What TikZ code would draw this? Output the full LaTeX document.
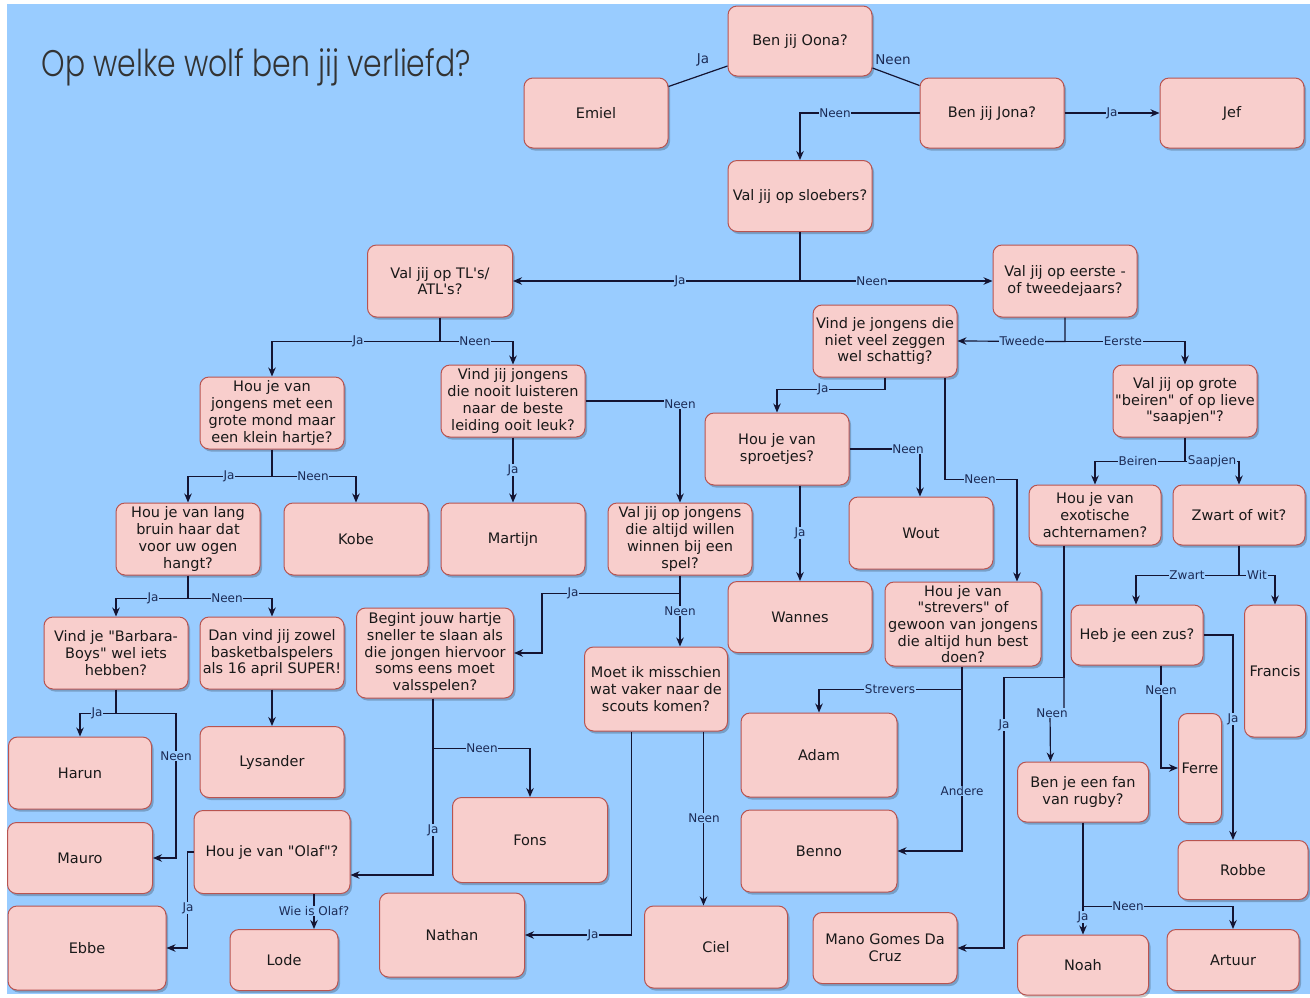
\documentclass[tikz,border=0pt]{standalone}
\usepackage{fontspec}
\usepackage{graphicx}
\usetikzlibrary{arrows.meta,shadows,calc}
\newfontfamily\dvs{DejaVu Sans}
\newfontfamily\ttlfont{Poppins Light}
\definecolor{bg}{HTML}{99CCFF}
\definecolor{boxfill}{HTML}{F8CECC}
\definecolor{boxline}{HTML}{B85450}
\definecolor{edgec}{HTML}{141432}
\definecolor{lbltext}{HTML}{1C2B55}
\tikzset{
  box/.style={draw=boxline, fill=boxfill, rounded corners=9pt, line width=1pt, inner sep=0pt, align=center,
    font=\dvs\fontsize{14.5}{16.7}\selectfont, text=black!90,
    drop shadow={shadow xshift=2pt, shadow yshift=-2.5pt, fill=black, opacity=0.22}},
  con/.style={draw=edgec, line width=1.2pt, -{Stealth[length=9pt,width=7.5pt]}},
  plain/.style={draw=edgec, line width=1.2pt},
  lbl/.style={fill=bg, inner sep=0.8pt, font=\dvs\fontsize{12}{14}\selectfont, text=lbltext},
  lblbig/.style={lbl, font=\dvs\fontsize{13.5}{15}\selectfont},
}
\newcommand\bx[6]{\node[box,minimum width=#4pt,minimum height=#5pt] (#1) at (#2,#3) {#6};}
\begin{document}
\begin{tikzpicture}[x=1pt,y=-1pt]
\useasboundingbox (0,0) rectangle (1310,997);
\fill[white] (0,0) rectangle (1310,997);
\fill[bg] (7,4) rectangle (1310,994);
\node[anchor=base west, text=black!80] (title) at (38,76) {\resizebox{429pt}{28pt}{\ttlfont Op welke wolf ben jij verliefd?}};
% boxes
\bx{oona}{800}{41}{144}{70}{Ben jij Oona?}
\bx{emiel}{596}{113}{144}{70}{Emiel}
\bx{jona}{992}{113}{144}{70}{Ben jij Jona?}
\bx{jef}{1232}{113}{144}{70}{Jef}
\bx{sloebers}{800}{196}{144}{71}{Val jij op sloebers?}
\bx{tl}{440}{281}{145}{72}{Val jij op TL's/\\ATL's?}
\bx{eerste}{1065}{281}{144}{72}{Val jij op eerste -\\of tweedejaars?}
\bx{hou1}{272}{413}{144}{72}{Hou je van\\jongens met een\\grote mond maar\\een klein hartje?}
\bx{nooit}{513}{401}{144}{72}{Vind jij jongens\\die nooit luisteren\\naar de beste\\leiding ooit leuk?}
\bx{schattig}{885}{341}{144}{72}{Vind je jongens die\\niet veel zeggen\\wel schattig?}
\bx{grote}{1185}{401}{144}{72}{Val jij op grote\\"beiren" of op lieve\\"saapjen"?}
\bx{lang}{188}{539}{144}{72}{Hou je van lang\\bruin haar dat\\voor uw ogen\\hangt?}
\bx{kobe}{356}{539}{144}{72}{Kobe}
\bx{martijn}{513}{539}{144}{72}{Martijn}
\bx{winnen}{680}{539}{144}{72}{Val jij op jongens\\die altijd willen\\winnen bij een\\spel?}
\bx{sproetjes}{777}{449}{144}{72}{Hou je van\\sproetjes?}
\bx{wout}{921}{533}{144}{72}{Wout}
\bx{wannes}{800}{617}{144}{71}{Wannes}
\bx{exo}{1095}{515}{132}{60}{Hou je van\\exotische\\achternamen?}
\bx{zw}{1239}{515}{132}{60}{Zwart of wit?}
\bx{barbara}{116}{653}{144}{72}{Vind je "Barbara-\\Boys" wel iets\\hebben?}
\bx{basket}{272}{653}{144}{72}{Dan vind jij zowel\\basketbalspelers\\als 16 april SUPER!}
\bx{begint}{435}{653}{157}{90}{Begint jouw hartje\\sneller te slaan als\\die jongen hiervoor\\soms eens moet\\valsspelen?}
\bx{moet}{656}{689}{143}{84}{Moet ik misschien\\wat vaker naar de\\scouts komen?}
\bx{strevers}{963}{624}{156}{84}{Hou je van\\"strevers" of\\gewoon van jongens\\die altijd hun best\\doen?}
\bx{zus}{1137}{635}{132}{60}{Heb je een zus?}
\bx{francis}{1275}{671}{61}{132}{Francis}
\bx{harun}{80}{773}{143}{72}{Harun}
\bx{lysander}{272}{762}{144}{71}{Lysander}
\bx{mauro}{80}{858}{145}{71}{Mauro}
\bx{olaf}{272}{852}{156}{83}{Hou je van "Olaf"?}
\bx{fons}{530}{840}{155}{85}{Fons}
\bx{adam}{819}{755}{156}{84}{Adam}
\bx{benno}{819}{851}{156}{82}{Benno}
\bx{ferre}{1200}{768}{43}{109}{Ferre}
\bx{rugby}{1083}{792}{131}{60}{Ben je een fan\\van rugby?}
\bx{robbe}{1243}{870}{130}{59}{Robbe}
\bx{ebbe}{87}{948}{158}{84}{Ebbe}
\bx{lode}{284}{960}{108}{61}{Lode}
\bx{nathan}{452}{935}{145}{84}{Nathan}
\bx{ciel}{716}{947}{143}{82}{Ciel}
\bx{mano}{885}{948}{144}{71}{Mano Gomes Da\\Cruz}
\bx{noah}{1083}{965}{131}{60}{Noah}
\bx{artuur}{1233}{960}{132}{61}{Artuur}
% junctions
\coordinate (j1) at ([yshift=-24pt]tl.south);
\coordinate (j2) at ([yshift=-27pt]hou1.south);
\coordinate (j3) at ([yshift=-18pt]winnen.south);
\coordinate (j4) at ([yshift=-24pt]eerste.south);
\coordinate (j6) at ([yshift=-24pt]grote.south);
\coordinate (j7) at ([yshift=-30pt]zw.south);
\coordinate (j8) at ([yshift=-23pt]lang.south);
\coordinate (j9) at ([yshift=-24pt]barbara.south);
\coordinate (j10) at ([xshift=-2pt,yshift=-50pt]begint.south);
\coordinate (j11) at ([xshift=-1pt,yshift=-23pt]strevers.south);
\coordinate (j12) at ([xshift=-31pt,yshift=-132pt]exo.south);
\coordinate (j13) at ([yshift=-84pt]rugby.south);
% connectors
\draw[plain] ([yshift=-25pt]oona.west) -- ([yshift=-9pt]emiel.north east);
\draw[plain] ([yshift=-27pt]oona.east) -- ([yshift=-8pt]jona.north west);
\draw[con] (jona.east) -- (jef.west);
\draw[con] (jona.west) -| (sloebers.north);
\draw[con] (sloebers.south) |- (tl.east);
\draw[con] (sloebers.south) |- (eerste.west);
\draw[con] (tl.south) -- (j1) -| (hou1.north);
\draw[con] (j1) -| (nooit.north);
\draw[con] (hou1.south) -- (j2) -| (lang.north);
\draw[con] (j2) -| (kobe.north);
\draw[con] (nooit.south) -- (martijn.north);
\draw[con] (nooit.east) -| (winnen.north);
\draw[con] (winnen.south) -- (j3) -- ++(-138,0) |- (begint.east);
\draw[con] (j3) -- (j3 |- moet.north);
\draw[con] (eerste.south) -- (j4) -- (schattig.east);
\draw[con] (j4) -| (grote.north);
\draw[con] (schattig.south) -- ++(0,12) -| (sproetjes.north);
\draw[con] ([xshift=60pt]schattig.south) -- ++(0,102) -| ([xshift=54pt]strevers.north);
\draw[con] (sproetjes.east) -| ([xshift=-1pt]wout.north);
\draw[con] (sproetjes.south -| wannes.north) -- (wannes.north);
\draw[con] (grote.south) -- (j6) -| (exo.north);
\draw[con] (j6) -| (zw.north);
\draw[con] (zw.south) -- (j7) -| ([xshift=-1pt]zus.north);
\draw[con] (j7) -| (francis.north);
\draw[con] (lang.south) -- (j8) -| (barbara.north);
\draw[con] (j8) -| (basket.north);
\draw[con] (barbara.south) -- (j9) -| (harun.north);
\draw[con] (j9) -- ++(60,0) |- (mauro.east);
\draw[con] (basket.south) -- (lysander.north);
\draw[plain] ([xshift=-2pt]begint.south) -- (j10);
\draw[con] (j10) -| (fons.north);
\draw[con] (j10) |- ([yshift=-23pt]olaf.east);
\draw[con] (olaf.west) -- ++(-6,0) |- (ebbe.east);
\draw[con] ([xshift=42pt]olaf.south) -- ([xshift=30pt]lode.north);
\draw[con] ([xshift=47.5pt]moet.south) -- ([xshift=-12.5pt]ciel.north);
\draw[con] ([xshift=-24.5pt]moet.south) |- (nathan.east);
\draw[plain] ([xshift=-1pt]strevers.south) -- (j11);
\draw[con] (j11) -| (adam.north);
\draw[con] (j11) |- (benno.east);
\draw[plain] ([xshift=-31pt]exo.south) -- (j12);
\draw[con] (j12) -- ++(-60,0) |- (mano.east);
\draw[con] (j12) -- ++(0,36) -- ++(-14,0) -- ([xshift=-32.5pt]rugby.north);
\draw[con] (zus.east) -| ([xshift=-10pt]robbe.north);
\draw[con] ([xshift=24pt]zus.south) |- (ferre.west);
\draw[con] (rugby.south) -- (noah.north);
\draw[con] (j13) -| (artuur.north);
% labels
\node[lblbig] (l1) at (703,60) {Ja};
\node[lblbig] (l2) at (893,60) {Neen};
\node[lbl] (l3) at (1112,113) {Ja};
\node[lbl] (l4) at (835,113) {Neen};
\node[lbl] (l5) at (680,281) {Ja};
\node[lbl] (l6) at (872,281) {Neen};
\node[lbl] (l7) at (358,341) {Ja};
\node[lbl] (l8) at (475,341) {Neen};
\node[lbl] (l9) at (229,476) {Ja};
\node[lbl] (l10) at (313,476) {Neen};
\node[lbl] (l11) at (513,470) {Ja};
\node[lbl] (l12) at (680,404) {Neen};
\node[lbl] (l13) at (573,593) {Ja};
\node[lbl] (l14) at (680,611) {Neen};
\node[lbl] (l15) at (1022,341) {Tweede};
\node[lbl] (l16) at (1123,341) {Eerste};
\node[lbl] (l17) at (823,389) {Ja};
\node[lbl] (l18) at (980,479) {Neen};
\node[lbl] (l19) at (908,449) {Neen};
\node[lbl] (l20) at (800,533) {Ja};
\node[lbl] (l21) at (1138,461) {Beiren};
\node[lbl] (l22) at (1212,461) {Saapjen};
\node[lbl] (l23) at (1187,575) {Zwart};
\node[lbl] (l24) at (1257,575) {Wit};
\node[lbl] (l25) at (153,598) {Ja};
\node[lbl] (l26) at (227,598) {Neen};
\node[lbl] (l27) at (97,713) {Ja};
\node[lbl] (l28) at (176,756) {Neen};
\node[lbl] (l29) at (482,748) {Neen};
\node[lbl] (l30) at (433,830) {Ja};
\node[lbl] (l31) at (188,908) {Ja};
\node[lbl] (l32) at (314,911) {Wie is Olaf?};
\node[lbl] (l33) at (704,818) {Neen};
\node[lbl] (l34) at (593,935) {Ja};
\node[lbl] (l35) at (890,689) {Strevers};
\node[lbl] (l36) at (962,791) {Andere};
\node[lbl] (l37) at (1004,725) {Ja};
\node[lbl] (l38) at (1052,713) {Neen};
\node[lbl] (l39) at (1233,719) {Ja};
\node[lbl] (l40) at (1161,690) {Neen};
\node[lbl] (l41) at (1083,917) {Ja};
\node[lbl] (l42) at (1128,906) {Neen};
\end{tikzpicture}
\end{document}
